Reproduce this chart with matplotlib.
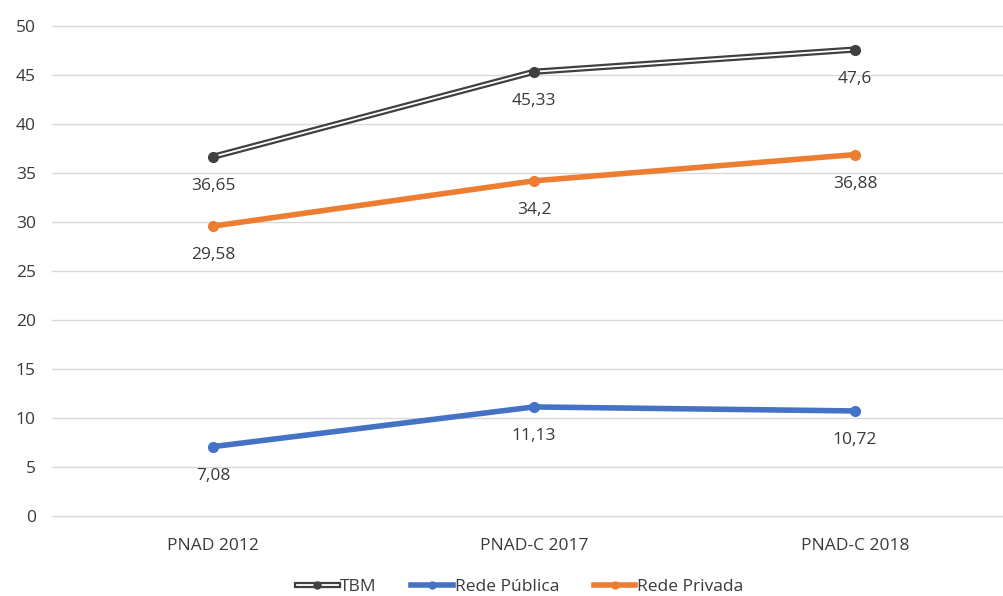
import matplotlib
matplotlib.use("Agg")
import matplotlib.pyplot as plt
from matplotlib.lines import Line2D

plt.rcParams["font.family"] = ["Open Sans", "DejaVu Sans"]

categories = ["PNAD 2012", "PNAD-C 2017", "PNAD-C 2018"]
tbm = [36.65, 45.33, 47.6]
rede_publica = [7.08, 11.13, 10.72]
rede_privada = [29.58, 34.2, 36.88]
yticks = list(range(0, 55, 5))

txt = "#3A3A3A"
blue = "#4472C4"
orange = "#ED7D31"
dark = "#404040"
fs = 12.5

fig = plt.figure(figsize=(10.04, 5.96), dpi=100)
ax = fig.add_axes([52.5 / 1004, 80 / 596, (1004 - 52.5) / 1004, 490 / 596])

x = list(range(len(categories)))

# TBM drawn as a double line: dark outer stroke, white core
ax.plot(x, tbm, color=dark, lw=4.5, solid_capstyle="butt", zorder=3)
ax.plot(x, tbm, color="white", lw=1.3, solid_capstyle="butt", zorder=4)
ax.plot(x, tbm, ls="none", marker="o", ms=7, color=dark, zorder=5)

ax.plot(x, rede_publica, color=blue, lw=4, marker="o", ms=7, zorder=3)
ax.plot(x, rede_privada, color=orange, lw=4, marker="o", ms=7, zorder=3)

for series in (tbm, rede_publica, rede_privada):
    for xi, v in zip(x, series):
        label = f"{v:g}".replace(".", ",")
        ax.annotate(label, (xi, v), xytext=(0, -21), textcoords="offset points",
                    ha="center", va="center", fontsize=fs, color=txt)

ax.set_xlim(-0.5, (1004 - 52.5) / 321 - 0.5)
ax.set_ylim(0, 50)
ax.set_yticks(yticks)
ax.set_xticks(x)
ax.set_xticklabels(categories)
ax.tick_params(axis="both", length=0, labelsize=fs, colors=txt)
ax.tick_params(axis="y", pad=12)
ax.tick_params(axis="x", pad=16)
for yv in yticks:
    ax.axhline(yv, color="#D9D9D9", lw=1, zorder=0, clip_on=False)
for s in ax.spines.values():
    s.set_visible(False)

h_tbm = (Line2D([], [], color=dark, lw=4.5),
         Line2D([], [], color="white", lw=1.3),
         Line2D([], [], ls="none", marker="o", ms=5, color=dark))
h_pub = Line2D([], [], color=blue, lw=4, marker="o", ms=5)
h_priv = Line2D([], [], color=orange, lw=4, marker="o", ms=5)
fig.legend([h_tbm, h_pub, h_priv], ["TBM", "Rede Pública", "Rede Privada"],
           loc="center", bbox_to_anchor=(520 / 1004, 9 / 596), ncol=3, frameon=False,
           fontsize=fs, labelcolor=txt, handlelength=2.4, handletextpad=0.1,
           columnspacing=2.0)

fig.savefig("out.png", dpi=100)
